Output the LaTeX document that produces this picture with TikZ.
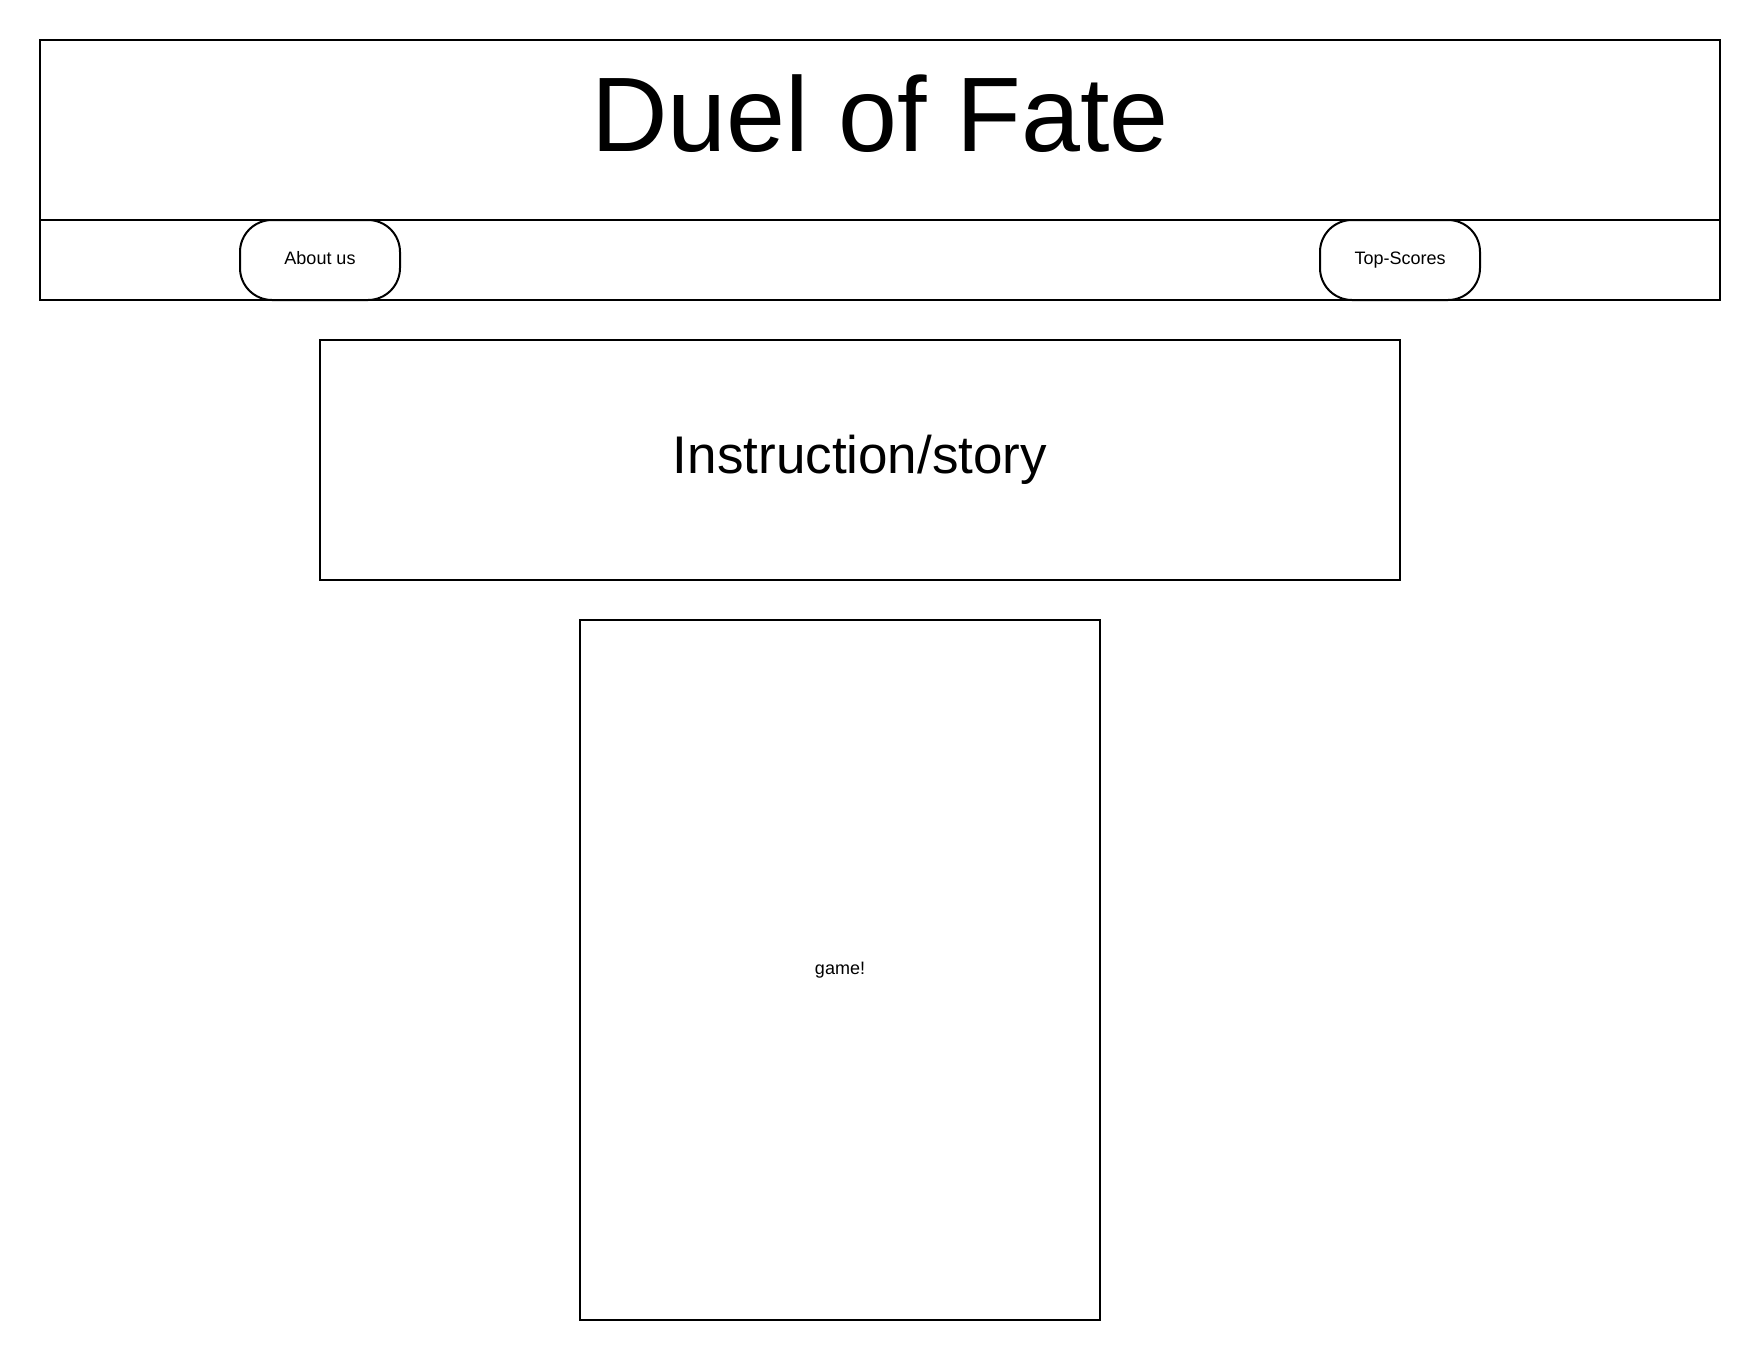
\documentclass[tikz,border=0pt]{standalone}
\usepackage{fontspec}
\setmainfont{Liberation Sans}
\usetikzlibrary{positioning}

\begin{document}
\begin{tikzpicture}[x=1pt, y=-1pt, line width=2pt, node distance=38pt, every node/.style={font=\fontsize{18}{22}\selectfont, inner sep=0pt}, panel/.style={draw, rectangle}, pill/.style={draw, rectangle, rounded corners=32pt, minimum width=160pt, minimum height=80pt, text height=13pt, text depth=4pt}]
\useasboundingbox (0,0) rectangle (1760,1360);
\node[panel, minimum width=1680pt, minimum height=180pt] (head) at (880,130) {};
\node[panel, minimum width=1680pt, minimum height=80pt] (nav) at (880,260) {};
\node[font=\fontsize{106}{120}\selectfont, anchor=base] (title) at (880,151) {Duel of Fate};
\node[pill] (about) at (320,260) {About us};
\node[pill] (scores) at (1400,260) {Top-Scores};
\node[panel, minimum width=1080pt, minimum height=240pt, font=\fontsize{53}{60}\selectfont, below=of nav, xshift=-20pt] (story) {Instruction/story};
\node[panel, minimum width=520pt, minimum height=700pt, below=of story, xshift=-20pt] (game) {game!};
\end{tikzpicture}
\end{document}
